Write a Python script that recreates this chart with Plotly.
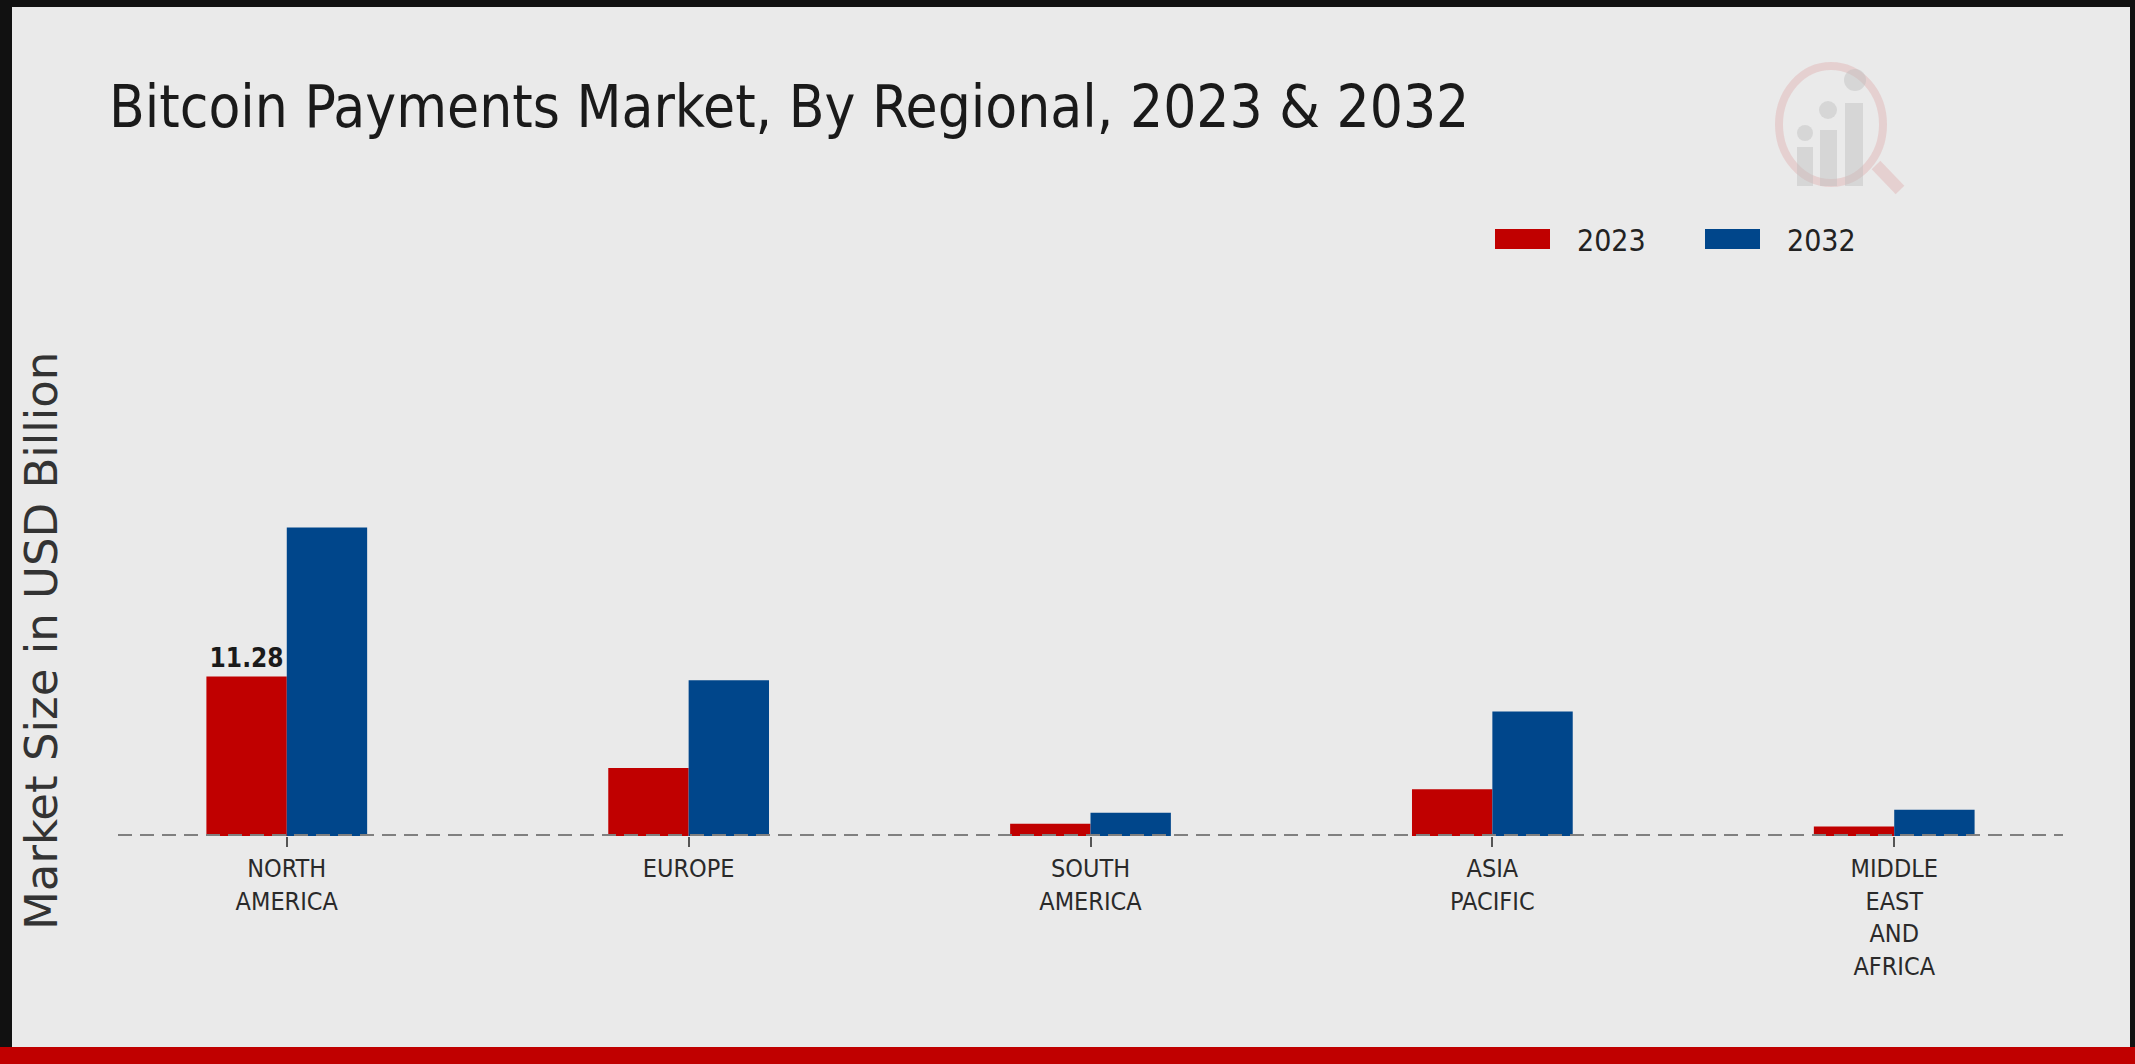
import plotly.graph_objects as go

# ---------------- data ----------------
regions = ["North America", "Europe", "South America", "Asia Pacific", "Middle East and Africa"]
tick_labels = ["NORTH<br>AMERICA", "EUROPE", "SOUTH<br>AMERICA", "ASIA<br>PACIFIC", "MIDDLE<br>EAST<br>AND<br>AFRICA"]
years = ["2023", "2032"]
values_2023 = [11.28, 4.8, 0.87, 3.3, 0.68]
values_2032 = [21.8, 11.0, 1.65, 8.8, 1.85]
labels_2023 = ["11.28", "", "", "", ""]
colors = ["#C00000", "#00468B"]

title_text = "Bitcoin Payments Market, By Regional, 2023 & 2032"
ytitle_text = "Market Size in USD Billion"

# ---------------- layout geometry (pixels) ----------------
W, H = 2135, 1064
L, R, T, B = 118, 2063, 512, 836
COND = "DejaVu Sans Condensed, DejaVu Sans, sans-serif"


def xp(px):
    return (px - L) / (R - L)


def yp(py):
    return (B - py) / (B - T)


fig = go.Figure()
series = [values_2023, values_2032]
texts = [labels_2023, ["" for _ in regions]]
for name, vals, col, txt in zip(years, series, colors, texts):
    fig.add_trace(go.Bar(
        x=tick_labels, y=vals, name=name, marker=dict(color=col, line=dict(width=0)),
        text=txt, textposition="outside", constraintext="none", cliponaxis=False,
        textfont=dict(family=COND, size=26, color="#1a1a1a", weight="bold"),
        showlegend=False, hoverinfo="x+y",
    ))

shapes = []
# dashed baseline
shapes.append(dict(type="line", xref="paper", yref="y", x0=0, x1=1, y0=0, y1=0,
                   line=dict(color="#808080", width=4, dash="14px,8px"), layer="above"))

# frame: black top/left/right, red bottom band
shapes.append(dict(type="rect", xref="paper", yref="paper", x0=xp(0), x1=xp(W), y0=yp(0), y1=yp(7),
                   fillcolor="#111111", line=dict(width=0)))
shapes.append(dict(type="rect", xref="paper", yref="paper", x0=xp(0), x1=xp(12), y0=yp(0), y1=yp(H),
                   fillcolor="#111111", line=dict(width=0)))
shapes.append(dict(type="rect", xref="paper", yref="paper", x0=xp(2130), x1=xp(W), y0=yp(0), y1=yp(H),
                   fillcolor="#111111", line=dict(width=0)))
shapes.append(dict(type="rect", xref="paper", yref="paper", x0=xp(0), x1=xp(W), y0=yp(1047), y1=yp(H),
                   fillcolor="#C00000", line=dict(width=0)))

# faint watermark logo
pink = "rgba(215,120,120,0.22)"
grey = "rgba(190,190,190,0.45)"
shapes.append(dict(type="circle", xref="paper", yref="paper", x0=xp(1779), x1=xp(1883), y0=yp(66), y1=yp(183),
                   line=dict(color=pink, width=8), fillcolor="rgba(0,0,0,0)"))
shapes.append(dict(type="line", xref="paper", yref="paper", x0=xp(1876), x1=xp(1900), y0=yp(165), y1=yp(190),
                   line=dict(color=pink, width=12)))
for (bx0, bx1, by0), (cx, cy, r) in zip([(1797, 1813, 147), (1820, 1837, 130), (1845, 1863, 103)],
                                        [(1805, 133, 8), (1828, 110, 9), (1855, 80, 11)]):
    shapes.append(dict(type="rect", xref="paper", yref="paper", x0=xp(bx0), x1=xp(bx1), y0=yp(by0), y1=yp(186),
                       fillcolor=grey, line=dict(width=0)))
    shapes.append(dict(type="circle", xref="paper", yref="paper", x0=xp(cx - r), x1=xp(cx + r), y0=yp(cy - r),
                       y1=yp(cy + r), fillcolor=grey, line=dict(width=0)))

# custom legend swatches
annotations = []
legend_pos = [(1495, 1575), (1705, 1785)]
for (sx, tx), name, col in zip(legend_pos, years, colors):
    shapes.append(dict(type="rect", xref="paper", yref="paper", x0=xp(sx), x1=xp(sx + 55), y0=yp(229), y1=yp(249),
                       fillcolor=col, line=dict(width=0)))
    annotations.append(dict(text=name, xref="paper", yref="paper", x=xp(tx), y=yp(240), xanchor="left",
                            yanchor="middle", showarrow=False,
                            font=dict(family=COND, size=30, color="#222222")))

# y-axis title
annotations.append(dict(text=ytitle_text, xref="paper", yref="paper", x=xp(41), y=yp(641), xanchor="center",
                        yanchor="middle", textangle=-90, showarrow=False,
                        font=dict(family="DejaVu Sans, sans-serif", size=45, color="#333333")))

fig.update_layout(
    width=W, height=H,
    margin=dict(l=L, r=W - R, t=T, b=H - B, pad=0),
    paper_bgcolor="#EAEAEA", plot_bgcolor="rgba(0,0,0,0)",
    barmode="group", bargap=0.6, bargroupgap=0,
    title=dict(text=title_text, xref="container", yref="container", x=109 / W, xanchor="left",
               y=1 - 107 / H, yanchor="middle",
               font=dict(family=COND, size=58, color="#1a1a1a")),
    shapes=shapes, annotations=annotations,
    showlegend=False,
)
fig.update_xaxes(type="category", range=[-0.42, 4.42], showgrid=False, zeroline=False, showline=False,
                 ticks="outside", ticklen=10, tickwidth=1.5, tickcolor="#555555",
                 tickfont=dict(family=COND, size=25, color="#2a2a2a"), fixedrange=True)
fig.update_yaxes(range=[0, 22.9], showgrid=False, zeroline=False, showline=False, showticklabels=False,
                 ticks="", fixedrange=True)

fig.write_html("out.html", config={"displayModeBar": False},
               post_script="document.body.style.margin='0';document.body.style.overflow='hidden';")
